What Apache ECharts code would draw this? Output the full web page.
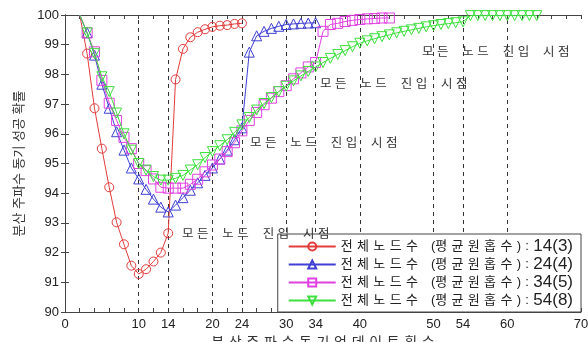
<!DOCTYPE html>
<html>
<head>
<meta charset="utf-8">
<script src="https://cdn.jsdelivr.net/npm/echarts@6/dist/echarts.min.js"></script>
<style>
  html, body { margin: 0; padding: 0; background: #fff; }
  #chart { width: 588px; height: 342px; }
</style>
</head>
<body>
<div id="chart"></div>
<script>
// tick labels shown on the x axis, and the dashed guide lines
const xTickLabels = [0, 10, 14, 20, 24, 30, 34, 40, 50, 54, 60, 70];
const guideX = [10, 14, 20, 24, 30, 34, 40, 50, 54, 60];

const seriesNames = ['14(3)', '24(4)', '34(5)', '54(8)'];
const xStart = 2; // every series starts at update 2, one point per update

// success probability (%) per update
const nodes14 = [100, 98.7, 96.86, 95.5, 94.2, 93.02, 92.28, 91.56, 91.28, 91.44, 91.7, 92.0, 92.65,
  97.83, 98.86, 99.25, 99.42, 99.52, 99.6, 99.64, 99.66, 99.7, 99.72];
const nodes24 = [100, 99.4, 98.65, 97.67, 96.86, 96.07, 95.45, 94.85, 94.48, 94.13, 93.8, 93.53, 93.37,
  93.6, 93.85, 94.1, 94.35, 94.6, 94.85, 95.15, 95.45, 95.8, 96.2,
  98.75, 99.3, 99.45, 99.55, 99.62, 99.68, 99.7, 99.72, 99.73, 99.74];
const nodes34 = [100, 99.4, 98.76, 97.8, 97.03, 96.45, 95.88, 95.5, 95.0, 94.76, 94.48, 94.2, 94.17,
  94.17, 94.17, 94.3, 94.47, 94.72, 94.95, 95.15, 95.4, 95.7, 96.1,
  96.45, 96.72, 96.98, 97.2, 97.42, 97.62, 97.85, 98.05, 98.25, 98.4,
  99.45, 99.68, 99.72, 99.78, 99.82, 99.85, 99.87, 99.88, 99.9, 99.9];
const nodes54 = [100, 99.4, 98.7, 97.92, 97.42, 96.7, 96.0, 95.45, 95.0, 94.78, 94.56, 94.44, 94.44,
  94.5, 94.6, 94.78, 94.96, 95.2, 95.4, 95.6, 95.8, 96.05, 96.3,
  96.55, 96.8, 97.02, 97.22, 97.42, 97.6, 97.78, 97.95, 98.1, 98.25,
  98.4, 98.54, 98.67, 98.8, 98.93, 99.05, 99.13, 99.2, 99.27, 99.33,
  99.4, 99.45, 99.5, 99.55, 99.6, 99.64, 99.68, 99.71, 99.74, 99.77,
  99.98, 99.98, 99.98, 99.98, 99.98, 99.98, 99.98, 99.98, 99.98, 99.98];

const FONT = '"Liberation Sans", "Noto Sans CJK KR", sans-serif';
const COLORS = ['#e23c3c', '#4040d4', '#e040e0', '#3ee03e'];
const SYMBOLS = ['circle', 'triangle', 'rect', 'path://M0,0 L10,0 L5,10 Z'];
const allData = [nodes14, nodes24, nodes34, nodes54];

// spread the hangul letters out a little, as the original does
const gap = '\u2004';
const letters = s => s.split('').join(gap);

const toPoints = (ys) => ys.map((v, i) => {
  const p = { value: [xStart + i, v] };
  if (i === 0) p.symbol = 'none';
  return p;
});

const annotation = '모 든    노 드    진 입    시 점';
const noteSpots = [[182, 225], [250, 134], [320, 75], [422, 43]];
const legendHead = letters('전체노드수') + gap + gap + gap + '(' + letters('평균원홉수') + gap + ')' + gap + ':' + gap;

const chart = echarts.init(document.getElementById('chart'));

const series = allData.map((ys, k) => ({
  name: seriesNames[k],
  type: 'line',
  data: toPoints(ys),
  symbol: SYMBOLS[k],
  symbolSize: k === 0 ? 9 : 10,
  showAllSymbol: true,
  lineStyle: { color: COLORS[k], width: 1 },
  itemStyle: { color: 'rgba(0,0,0,0)', borderColor: COLORS[k], borderWidth: 1 },
  emphasis: { disabled: true },
  z: 3 + k,
  markLine: k === 0 ? {
    silent: true,
    symbol: 'none',
    label: { show: false },
    lineStyle: { color: '#333', type: [4, 4], width: 1 },
    data: guideX.map(v => ({ xAxis: v })),
    z: 1
  } : undefined
}));

chart.setOption({
  animation: false,
  backgroundColor: '#fff',
  textStyle: { fontFamily: FONT },
  grid: { left: 65, right: 7, top: 15, bottom: 30, outerBoundsMode: 'none', containLabel: false },
  xAxis: [{
    type: 'value', min: 0, max: 70, interval: 2,
    name: letters('분산주파수동기업데이트횟수'),
    nameLocation: 'middle', nameGap: 21,
    nameTextStyle: { fontSize: 14, color: '#333', fontFamily: FONT },
    axisLine: { lineStyle: { color: '#444' } },
    axisTick: { inside: true, length: 4, lineStyle: { color: '#444' } },
    axisLabel: {
      fontSize: 13, color: '#222', margin: 6,
      formatter: v => (xTickLabels.indexOf(v) >= 0 ? String(v) : '')
    },
    splitLine: { show: false }
  }, {
    type: 'value', min: 0, max: 70, interval: 2, position: 'top',
    axisLine: { show: true, lineStyle: { color: '#444' } },
    axisTick: { inside: true, length: 4, lineStyle: { color: '#444' } },
    axisLabel: { show: false },
    splitLine: { show: false }
  }],
  yAxis: [{
    type: 'value', min: 90, max: 100, interval: 1,
    name: '분산 주파수 동기 성공 확률',
    nameLocation: 'middle', nameGap: 33, nameRotate: 90,
    nameTextStyle: { fontSize: 13, color: '#333', fontFamily: FONT },
    axisLine: { show: true, lineStyle: { color: '#444' } },
    axisTick: { show: true, inside: true, length: 4, lineStyle: { color: '#444' } },
    axisLabel: { fontSize: 13, color: '#222', margin: 6 },
    splitLine: { show: false }
  }, {
    type: 'value', min: 90, max: 100, interval: 1, position: 'right',
    axisLine: { show: true, lineStyle: { color: '#444' } },
    axisTick: { show: true, inside: true, length: 4, lineStyle: { color: '#444' } },
    axisLabel: { show: false },
    splitLine: { show: false }
  }],
  legend: {
    orient: 'vertical',
    right: 7, bottom: 30,
    itemWidth: 47, itemHeight: 10, itemGap: 1,
    padding: [4, 8, 3, 10],
    borderColor: '#444', borderWidth: 1,
    backgroundColor: '#fff',
    data: seriesNames,
    textStyle: {
      fontSize: 13, color: '#222', fontFamily: FONT, lineHeight: 13,
      rich: {
        k: { fontSize: 13, lineHeight: 13, color: '#222', fontFamily: FONT },
        n: { fontSize: 17, lineHeight: 13, color: '#222', fontFamily: FONT }
      }
    },
    formatter: name => '{k|' + legendHead + '}{n|' + name + '}'
  },
  graphic: noteSpots.map(([l, t]) => ({
    type: 'text', left: l, top: t + 3, z: 10,
    style: { text: annotation, fill: '#333', font: '12.5px ' + FONT }
  })),
  series: series
});
</script>
</body>
</html>
